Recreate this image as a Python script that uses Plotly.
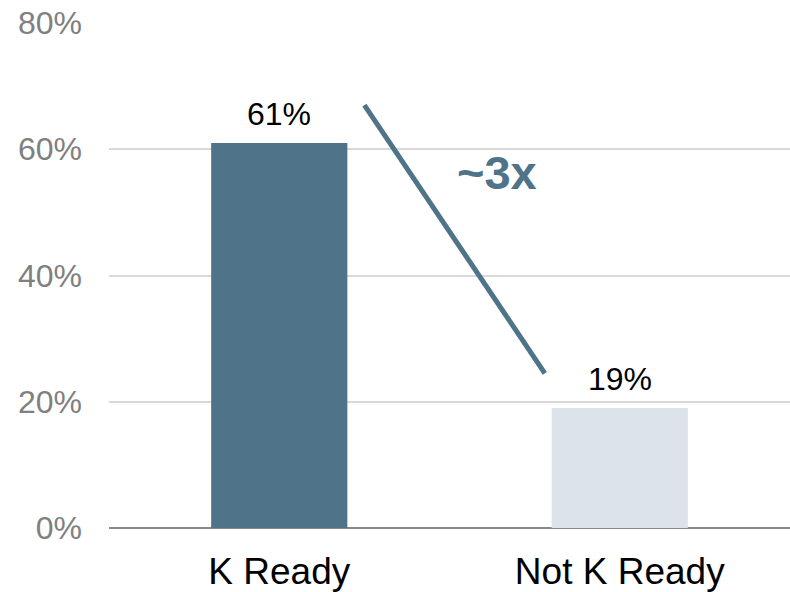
import plotly.graph_objects as go

categories = ["K Ready", "Not K Ready"]
values = [61, 19]
bar_colors = ["#4F7489", "#DCE3EA"]
value_labels = ["61%", "19%"]
tick_vals = [0, 20, 40, 60, 80]
tick_text = ["0%", "20%", "40%", "60%", "80%"]

FONT = "Liberation Sans, Arial, sans-serif"

fig = go.Figure()
fig.add_trace(go.Bar(
    x=categories, y=values,
    marker=dict(color=bar_colors, line=dict(width=0)),
    width=0.4,
    hoverinfo="skip",
))

for c, v, t in zip(categories, values, value_labels):
    fig.add_annotation(x=c, y=v, text=t, showarrow=False, yanchor="bottom",
                       yshift=9, font=dict(family=FONT, size=32, color="#000000"))

# ~3x annotation line and label
fig.add_shape(type="line", xref="x", yref="y", x0=0.25, y0=67.0, x1=0.78, y1=24.5,
              line=dict(color="#4F7489", width=5))
fig.add_annotation(xref="x", yref="y", x=0.64, y=56.3, text="<b>~3x</b>", showarrow=False,
                   font=dict(family=FONT, size=47, color="#4F7489"))

fig.update_layout(
    width=790, height=592,
    margin=dict(l=109, r=0, t=23, b=64),
    paper_bgcolor="white", plot_bgcolor="white",
    showlegend=False,
    bargap=0.6,
    font=dict(family=FONT),
)
fig.update_xaxes(
    showgrid=False, showline=False, zeroline=False, ticks="",
    tickfont=dict(family=FONT, size=37, color="#000000"),
    ticklabelstandoff=18,
    range=[-0.5, 1.5],
)
fig.update_yaxes(
    range=[0, 80], tickvals=tick_vals, ticktext=tick_text,
    showgrid=True, gridcolor="#D9D9D9", gridwidth=1.5,
    zeroline=True, zerolinecolor="#888888", zerolinewidth=2,
    showline=False, ticks="",
    tickfont=dict(family=FONT, size=32, color="#808080"),
    ticklabelstandoff=26,
)

fig.write_html("out.html")
